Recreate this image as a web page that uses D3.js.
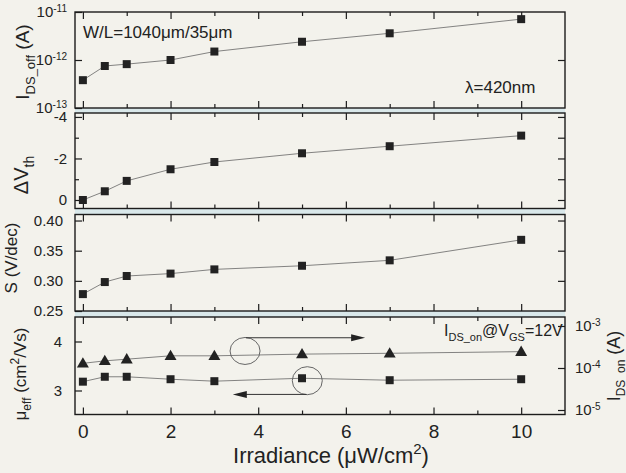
<!DOCTYPE html>
<html>
<head>
<meta charset="utf-8">
<script src="https://cdn.jsdelivr.net/npm/d3@7"></script>
<style>
  html, body { margin: 0; padding: 0; background: #f3f2ec; }
  svg { display: block; font-family: Arial, "Liberation Sans", sans-serif; }
</style>
</head>
<body>
<svg id="chart" width="626" height="473"></svg>
<script>
// irradiance steps (uW/cm^2)
const irradiance = [0, 0.5, 1, 2, 3, 5, 7, 10];
// off current (A)
const idsOff = [3.8e-13, 7.5e-13, 8.2e-13, 1.0e-12, 1.5e-12, 2.4e-12, 3.6e-12, 7.1e-12];
// threshold voltage shift (V)
const deltaVth = [0, -0.42, -0.92, -1.48, -1.83, -2.25, -2.59, -3.1];
// subthreshold swing (V/dec)
const swing = [0.278, 0.298, 0.308, 0.312, 0.319, 0.325, 0.334, 0.368];
// field effect mobility (cm2/Vs)
const mobility = [3.18, 3.28, 3.28, 3.23, 3.19, 3.25, 3.21, 3.23];
// on current at Vgs = 12V (A)
const idsOn = [1.29e-4, 1.48e-4, 1.62e-4, 1.95e-4, 1.95e-4, 2.14e-4, 2.24e-4, 2.45e-4];

const xMajor = [0, 2, 4, 6, 8, 10];
const xMinor = [1, 3, 5, 7, 9];

const ink = "#1c1c1c";
const svg = d3.select("#chart");
const left = 75, right = 565;

const x = d3.scaleLinear().domain([-0.18, 11.0]).range([left, right]);

// panel frames (top, bottom in px)
const panels = [
  {top: 12, bottom: 108},
  {top: 113, bottom: 208.5},
  {top: 214.5, bottom: 311},
  {top: 317, bottom: 414.5}
];

const y1 = d3.scaleLog().domain([1e-13, 1e-11]).range([panels[0].bottom, panels[0].top]);
const y2 = d3.scaleLinear().domain([0.41, -4.19]).range([panels[1].bottom, panels[1].top]);
const y3 = d3.scaleLinear().domain([0.25, 0.41]).range([panels[2].bottom, panels[2].top]);
const y4 = d3.scaleLinear().domain([2.51, 4.5]).range([panels[3].bottom, panels[3].top]);
const y4r = d3.scaleLog().domain([Math.pow(10, -5.107), Math.pow(10, -2.786)]).range([panels[3].bottom, panels[3].top]);

// light band between the stacked frames
for (let i = 0; i < panels.length - 1; i++) {
  svg.append("rect")
    .attr("x", left).attr("y", panels[i].bottom)
    .attr("width", right - left).attr("height", panels[i + 1].top - panels[i].bottom)
    .attr("fill", "#d9e8ea");
}

function powerLabels(g) {
  g.selectAll(".tick text").each(function(d) {
    const e = Math.round(Math.log10(d));
    const t = d3.select(this).text(null);
    t.append("tspan").text("10");
    t.append("tspan").attr("dy", "-0.55em").attr("font-size", "10px").text(e);
  });
}

function styleAxis(g, size) {
  g.select(".domain").remove();
  g.selectAll(".tick line").attr("stroke", ink).attr("stroke-width", 1.2);
  g.selectAll(".tick text").attr("fill", "#222").attr("font-size", size + "px");
}

// x ticks on the top and bottom edge of every panel
panels.forEach(function(p, i) {
  const last = i === panels.length - 1;
  svg.append("g").attr("transform", "translate(0," + p.top + ")")
    .call(d3.axisTop(x).tickValues(xMajor).tickSize(-7).tickFormat(""))
    .call(g => styleAxis(g, 19));
  svg.append("g").attr("transform", "translate(0," + p.top + ")")
    .call(d3.axisTop(x).tickValues(xMinor).tickSize(-4).tickFormat(""))
    .call(g => styleAxis(g, 19));
  svg.append("g").attr("transform", "translate(0," + p.bottom + ")")
    .call(d3.axisBottom(x).tickValues(xMajor).tickSize(-7).tickPadding(10)
      .tickFormat(last ? d3.format("d") : ""))
    .call(g => styleAxis(g, 19));
  svg.append("g").attr("transform", "translate(0," + p.bottom + ")")
    .call(d3.axisBottom(x).tickValues(xMinor).tickSize(-4).tickFormat(""))
    .call(g => styleAxis(g, 19));
});

// left axes
svg.append("g").attr("transform", "translate(" + left + ",0)")
  .call(d3.axisLeft(y1).tickValues([1e-13, 1e-12, 1e-11]).tickSize(-7).tickPadding(8))
  .call(g => styleAxis(g, 15)).call(powerLabels);
svg.append("g").attr("transform", "translate(" + left + ",0)")
  .call(d3.axisLeft(y2).tickValues([-4, -2, 0]).tickSize(-7).tickPadding(8).tickFormat(d => String(d)))
  .call(g => styleAxis(g, 15));
svg.append("g").attr("transform", "translate(" + left + ",0)")
  .call(d3.axisLeft(y2).tickValues([-3, -1]).tickSize(-4).tickFormat(""))
  .call(g => styleAxis(g, 15));
svg.append("g").attr("transform", "translate(" + left + ",0)")
  .call(d3.axisLeft(y3).tickValues([0.25, 0.30, 0.35, 0.40]).tickSize(-7).tickPadding(12).tickFormat(d3.format(".2f")))
  .call(g => styleAxis(g, 15));
svg.append("g").attr("transform", "translate(" + left + ",0)")
  .call(d3.axisLeft(y4).tickValues([3, 4]).tickSize(-7).tickPadding(13).tickFormat(d3.format("d")))
  .call(g => styleAxis(g, 15));

// right axes
svg.append("g").attr("transform", "translate(" + right + ",0)")
  .call(d3.axisRight(y1).tickValues([1e-12]).tickSize(-7).tickFormat(""))
  .call(g => styleAxis(g, 15));
svg.append("g").attr("transform", "translate(" + right + ",0)")
  .call(d3.axisRight(y2).tickValues([-4, -3, -2, -1, 0]).tickSize(-7).tickFormat(""))
  .call(g => styleAxis(g, 15));
svg.append("g").attr("transform", "translate(" + right + ",0)")
  .call(d3.axisRight(y3).tickValues([0.30, 0.35, 0.40]).tickSize(-7).tickFormat(""))
  .call(g => styleAxis(g, 15));
svg.append("g").attr("transform", "translate(" + right + ",0)")
  .call(d3.axisRight(y4r).tickValues([1e-5, 1e-4, 1e-3]).tickSize(-7).tickPadding(10))
  .call(g => styleAxis(g, 15)).call(powerLabels);

// frames
panels.forEach(function(p) {
  svg.append("rect")
    .attr("x", left).attr("y", p.top)
    .attr("width", right - left).attr("height", p.bottom - p.top)
    .attr("fill", "none").attr("stroke", ink).attr("stroke-width", 1.4);
});

// series
function drawSeries(values, yScale, shape) {
  const pts = irradiance.map((d, i) => [d, values[i]]);
  svg.append("path")
    .datum(pts)
    .attr("fill", "none")
    .attr("stroke", "#666")
    .attr("stroke-width", 0.8)
    .attr("d", d3.line().x(d => x(d[0])).y(d => yScale(d[1])));
  const sym = shape === "triangle"
    ? d3.symbol().type(d3.symbolTriangle).size(62)
    : d3.symbol().type(d3.symbolSquare).size(64);
  svg.append("g").selectAll("path")
    .data(pts)
    .join("path")
    .attr("transform", d => "translate(" + x(d[0]) + "," + (yScale(d[1]) + (shape === "triangle" ? 0.8 : 0)) + ")")
    .attr("d", sym())
    .attr("fill", "#222");
}

drawSeries(idsOff, y1, "square");
drawSeries(deltaVth, y2, "square");
drawSeries(swing, y3, "square");
drawSeries(idsOn, y4r, "triangle");
drawSeries(mobility, y4, "square");

// circles and arrows pointing to the matching axis
function arrow(x0, x1, yPx) {
  const dir = x1 > x0 ? 1 : -1;
  const tip = x(x1);
  svg.append("line")
    .attr("x1", x(x0)).attr("x2", tip - dir * 10)
    .attr("y1", yPx).attr("y2", yPx)
    .attr("stroke", "#333").attr("stroke-width", 1);
  svg.append("path")
    .attr("d", "M" + tip + "," + yPx + "L" + (tip - dir * 14) + "," + (yPx - 3.5) + "L" + (tip - dir * 14) + "," + (yPx + 3.5) + "Z")
    .attr("fill", "#222");
}

svg.append("ellipse")
  .attr("cx", x(3.7)).attr("cy", y4r(Math.pow(10, -3.595)))
  .attr("rx", 15).attr("ry", 13.5)
  .attr("fill", "none").attr("stroke", "#666").attr("stroke-width", 1);
arrow(3.72, 6.44, y4r(Math.pow(10, -3.28)));

svg.append("ellipse")
  .attr("cx", x(5.12)).attr("cy", y4(3.2))
  .attr("rx", 15).attr("ry", 14)
  .attr("fill", "none").attr("stroke", "#666").attr("stroke-width", 1);
arrow(5.1, 3.42, y4(2.92));

// rich text helper: parts with optional sub / sup
function richText(g, parts, base) {
  let shift = 0;
  parts.forEach(function(p) {
    const target = p.sub ? 0.3 * base : p.sup ? -0.4 * base : 0;
    g.append("tspan")
      .attr("dy", target - shift)
      .attr("font-size", (p.sub || p.sup) ? Math.round(base * 0.68) + "px" : null)
      .text(p.t);
    shift = target;
  });
}

function label(xp, yp, size, parts, opts) {
  opts = opts || {};
  const t = svg.append("text")
    .attr("fill", "#222")
    .attr("font-size", size + "px")
    .attr("text-anchor", opts.anchor || "start");
  if (opts.rotate) {
    t.attr("transform", "translate(" + xp + "," + yp + ") rotate(-90)");
  } else {
    t.attr("x", xp).attr("y", yp);
  }
  richText(t, parts, size);
  return t;
}

label(83, 38, 17, [{t: "W/L=1040\u03bcm/35\u03bcm"}]);
label(465, 93, 17, [{t: "\u03bb=420nm"}]);
label(444, 336, 16, [{t: "I"}, {t: "DS_on", sub: true}, {t: "@V"}, {t: "GS", sub: true}, {t: "=12V"}]);

// axis titles
label(29, 62, 19, [{t: "I"}, {t: "DS_off", sub: true}, {t: " (A)"}], {rotate: true, anchor: "middle"});
label(28, 175, 20, [{t: "\u0394V"}, {t: "th", sub: true}], {rotate: true, anchor: "middle"});
label(17, 258, 17, [{t: "S (V/dec)"}], {rotate: true, anchor: "middle"});
label(26, 374, 17, [{t: "\u03bc"}, {t: "eff", sub: true}, {t: " (cm"}, {t: "2", sup: true}, {t: "/Vs)"}], {rotate: true, anchor: "middle"});
label(620, 366, 18, [{t: "I"}, {t: "DS_on", sub: true}, {t: " (A)"}], {rotate: true, anchor: "middle"});
label(331, 463, 22, [{t: "Irradiance (\u03bcW/cm"}, {t: "2", sup: true}, {t: ")"}], {anchor: "middle"});
</script>
</body>
</html>
